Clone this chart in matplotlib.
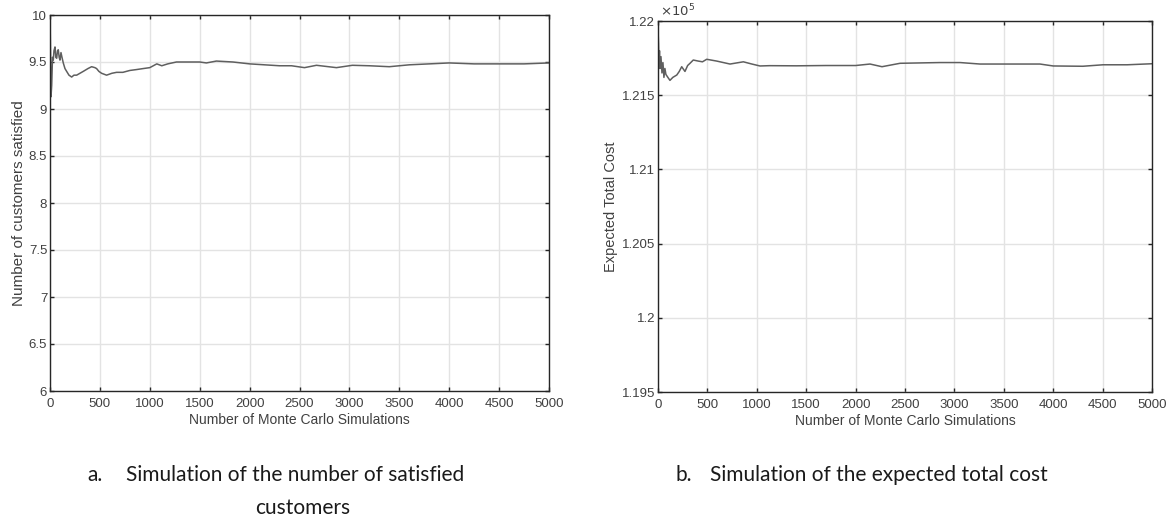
import matplotlib
matplotlib.use("Agg")
import matplotlib.pyplot as plt
from matplotlib.ticker import FuncFormatter

# ---- data ----
sims_a = [0, 5, 10, 17, 25, 33, 40, 50, 58, 67, 75, 83, 92, 100, 110, 120, 133, 150, 167,
          190, 217, 240, 267, 300, 333, 380, 417, 450, 467, 490, 517, 567, 620, 667, 730, 800,
          870, 933, 1000, 1070, 1120, 1180, 1267, 1380, 1500, 1567, 1667, 1833, 2000, 2150,
          2300, 2420, 2550, 2670, 2870, 3030, 3200, 3400, 3500, 3600, 3800, 4000, 4250, 4500,
          4750, 5000]
satisfied = [10.0, 9.6, 9.13, 9.25, 9.55, 9.52, 9.62, 9.66, 9.55, 9.54, 9.62, 9.63, 9.55,
             9.52, 9.60, 9.55, 9.49, 9.43, 9.40, 9.36, 9.34, 9.36, 9.36, 9.38, 9.40, 9.43,
             9.45, 9.44, 9.43, 9.40, 9.38, 9.36, 9.38, 9.39, 9.39, 9.41, 9.42, 9.43, 9.44,
             9.48, 9.46, 9.48, 9.50, 9.50, 9.50, 9.49, 9.51, 9.50, 9.48, 9.47, 9.46, 9.46,
             9.44, 9.465, 9.44, 9.465, 9.46, 9.45, 9.46, 9.47, 9.48, 9.49, 9.48, 9.48, 9.48,
             9.49]

sims_b = [0, 5, 10, 15, 20, 30, 40, 50, 60, 70, 80, 100, 121, 150, 190, 215, 240, 273, 300,
          324, 357, 407, 450, 493, 594, 729, 864, 950, 1032, 1130, 1400, 1700, 2000, 2146,
          2267, 2450, 2854, 3057, 3259, 3530, 3866, 4000, 4300, 4504, 4750, 5000]
cost = [121950, 121850, 121700, 121800, 121680, 121760, 121650, 121720, 121620, 121680,
        121640, 121620, 121600, 121620, 121636, 121660, 121692, 121660, 121700, 121715,
        121737, 121730, 121725, 121742, 121730, 121710, 121725, 121710, 121697, 121699,
        121698, 121700, 121700, 121710, 121692, 121715, 121720, 121720, 121710, 121710,
        121710, 121697, 121695, 121705, 121705, 121712]

xticks = [0, 500, 1000, 1500, 2000, 2500, 3000, 3500, 4000, 4500, 5000]
yticks_a = [6, 6.5, 7, 7.5, 8, 8.5, 9, 9.5, 10]
yticks_b = [119500, 120000, 120500, 121000, 121500, 122000]

caption_a1 = "Simulation of the number of satisfied"
caption_a2 = "customers"
caption_b = "Simulation of the expected total cost"

# ---- styling ----
plt.rcParams['font.family'] = ['Liberation Sans', 'DejaVu Sans']
line_c = '#5f5f5f'
spine_c = '#262626'
tick_c = '#404040'
grid_c = '#e3e3e3'

fig = plt.figure(figsize=(11.76, 5.17), dpi=100)
ax1 = fig.add_axes([50/1176, 1-391/517, 499/1176, 376/517])
ax2 = fig.add_axes([658/1176, 1-392/517, 494/1176, 371/517])


def style(ax):
    ax.grid(True, color=grid_c, linewidth=1.0)
    ax.set_axisbelow(True)
    for s in ax.spines.values():
        s.set_color(spine_c)
        s.set_linewidth(1.0)
    ax.tick_params(direction='in', length=3, width=1, color=spine_c, labelcolor=tick_c,
                   labelsize=9.5, top=True, right=True, pad=2)
    ax.tick_params(axis='x', pad=5)
    ax.set_xlim(0, 5000)
    ax.set_xticks(xticks)
    ax.set_xlabel("Number of Monte Carlo Simulations", fontsize=10, color=tick_c, labelpad=2)


ax1.plot(sims_a, satisfied, color=line_c, linewidth=1.1)
style(ax1)
ax1.set_ylim(6, 10)
ax1.set_yticks(yticks_a)
ax1.yaxis.set_major_formatter(FuncFormatter(lambda v, p: f"{v:g}"))
ax1.set_ylabel("Number of customers satisfied", fontsize=11, color=tick_c, labelpad=2)

ax2.plot(sims_b, cost, color=line_c, linewidth=1.1)
style(ax2)
ax2.set_ylim(119500, 122000)
ax2.set_yticks(yticks_b)
ax2.yaxis.set_major_formatter(FuncFormatter(lambda v, p: f"{v/1e5:g}"))
ax2.set_ylabel("Expected Total Cost", fontsize=10.5, color=tick_c, labelpad=3)
ax2.text(0.005, 1.005, r"$\times10^5$", transform=ax2.transAxes, fontsize=9.5,
         color=tick_c, ha='left', va='bottom')

cap_font = ['Lato', 'DejaVu Sans']
cap_size = 15
fig.text(87/1176, 1-475/517, "a.", fontsize=cap_size, family=cap_font, color='#1a1a1a', va='center')
fig.text(126/1176, 1-475/517, caption_a1, fontsize=cap_size, family=cap_font, color='#1a1a1a', va='center')
fig.text(303/1176, 1-508/517, caption_a2, fontsize=cap_size, family=cap_font, color='#1a1a1a',
         va='center', ha='center')
fig.text(675/1176, 1-475/517, "b.", fontsize=cap_size, family=cap_font, color='#1a1a1a', va='center')
fig.text(710/1176, 1-475/517, caption_b, fontsize=cap_size, family=cap_font, color='#1a1a1a', va='center')

fig.savefig("out.png", dpi=100)
